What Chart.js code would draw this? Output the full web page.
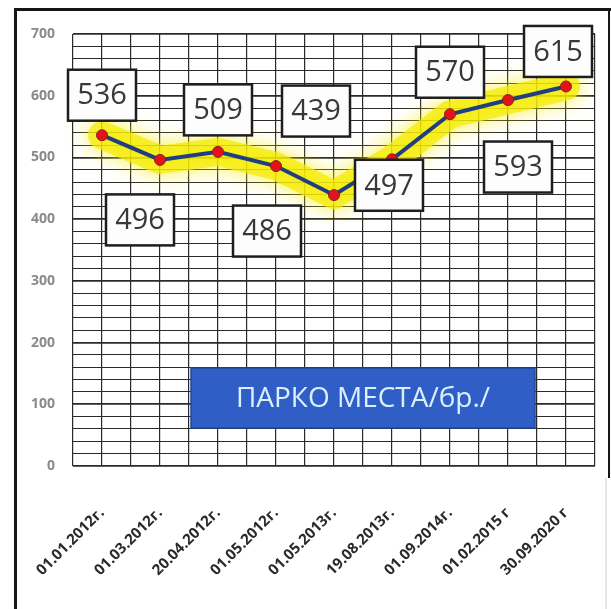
<!DOCTYPE html>
<html>
<head>
<meta charset="utf-8">
<script src="https://cdn.jsdelivr.net/npm/chart.js@4.4.0/dist/chart.umd.min.js"></script>
<style>
	html, body { margin: 0; padding: 0; background: #fff; }
	#wrap { width: 611px; height: 609px; position: relative; }
</style>
</head>
<body>
<div id="wrap"><canvas id="parkingChart" width="611" height="609"></canvas></div>
<script>
const categories = ['01.01.2012г.', '01.03.2012г.', '20.04.2012г.', '01.05.2012г.', '01.05.2013г.', '19.08.2013г.', '01.09.2014г.', '01.02.2015 г', '30.09.2020 г'];
const parkingSpots = [536, 496, 509, 486, 439, 497, 570, 593, 615];
const seriesName = 'ПАРКО МЕСТА/бр./';
const yMin = 0;
const yMax = 700;
const yLabelStep = 100;
const yGridStep = 20;

// where each value box sits relative to its point (dx, dy)
const labelOffsets = [[0, -40], [-20, 60], [0, -42], [-9, 65], [-18, -84], [-3, 26], [0, -42], [10, 67], [-8, -35]];

const AREA = { left: 73, right: 595, top: 34, bottom: 466 };

const glowPlugin = {
	id: 'glow',
	beforeDatasetDraw(chart, args) {
		if (args.index !== 1) return;
		chart.ctx.save();
		chart.ctx.shadowColor = 'rgba(245, 235, 0, 1)';
		chart.ctx.shadowBlur = 20;
	},
	afterDatasetDraw(chart, args) {
		if (args.index !== 1) return;
		chart.ctx.restore();
	},
};

const valueBoxPlugin = {
	id: 'valueBoxes',
	afterDatasetsDraw(chart) {
		const { ctx } = chart;
		const meta = chart.getDatasetMeta(0);
		ctx.save();
		ctx.font = '29px "Open Sans", sans-serif';
		ctx.textAlign = 'center';
		ctx.textBaseline = 'middle';
		meta.data.forEach((point, i) => {
			const [dx, dy] = labelOffsets[i];
			const cx = point.x + dx;
			const cy = point.y + dy;
			const w = 68;
			const h = 51;
			ctx.fillStyle = '#fdfdfd';
			ctx.fillRect(cx - w / 2, cy - h / 2, w, h);
			ctx.lineWidth = 2.5;
			ctx.strokeStyle = '#1e1e1e';
			ctx.strokeRect(cx - w / 2, cy - h / 2, w, h);
			ctx.fillStyle = '#383838';
			ctx.fillText(String(chart.data.datasets[0].data[i]), cx, cy + 1);
		});

		// series name box
		const x0 = 191, y0 = 368, bw = 344, bh = 60;
		ctx.fillStyle = '#2f5fc6';
		ctx.fillRect(x0, y0, bw, bh);
		ctx.strokeStyle = '#23479a';
		ctx.lineWidth = 1.5;
		ctx.strokeRect(x0, y0, bw, bh);
		ctx.fillStyle = '#dcefff';
		ctx.font = '28px "Open Sans", sans-serif';
		ctx.fillText(chart.data.datasets[0].label, x0 + bw / 2, y0 + bh / 2 + 1);
		ctx.restore();
	},
	afterDraw(chart) {
		const { ctx } = chart;
		ctx.save();
		ctx.fillStyle = '#161616';
		ctx.fillRect(14, 8, 3, 601);
		ctx.fillRect(14, 8, 597, 3);
		ctx.fillRect(608, 8, 2, 470);
		ctx.fillStyle = '#e6e6e6';
		ctx.fillRect(605, 478, 2, 131);
		ctx.restore();
	},
};

new Chart(document.getElementById('parkingChart').getContext('2d'), {
	type: 'line',
	data: {
		labels: categories,
		datasets: [
			{
				label: seriesName,
				data: parkingSpots,
				borderColor: '#1f3f80',
				borderWidth: 4,
				pointRadius: 5.5,
				pointBackgroundColor: '#e3131c',
				pointBorderColor: '#8a1f1f',
				pointBorderWidth: 1,
				tension: 0,
				xAxisID: 'x',
				yAxisID: 'y',
			},
			{
				label: 'glow',
				data: parkingSpots,
				borderColor: 'rgba(245, 236, 0, 0.72)',
				borderWidth: 28,
				borderCapStyle: 'round',
				borderJoinStyle: 'round',
				pointRadius: 0,
				tension: 0,
				xAxisID: 'x',
				yAxisID: 'y',
			},
		],
	},
	options: {
		responsive: false,
		animation: false,
		layout: { padding: { top: AREA.top, right: 611 - AREA.right, left: 0, bottom: 0 } },
		plugins: {
			legend: { display: false },
			tooltip: { enabled: false },
		},
		scales: {
			x: {
				type: 'category',
				offset: true,
				grid: { display: false },
				border: { display: false },
				ticks: {
					minRotation: 45,
					maxRotation: 45,
					padding: 30,
					autoSkip: false,
					color: '#2a2a2a',
					font: { family: '"Open Sans", sans-serif', size: 15, weight: 'bold' },
				},
				afterFit(scale) { scale.height = 609 - AREA.bottom; },
			},
			x2: {
				type: 'linear',
				position: 'bottom',
				min: -0.5,
				max: categories.length - 0.5,
				ticks: { display: false, stepSize: 0.5 },
				grid: { color: '#2a2a2a', lineWidth: 1.2, drawTicks: false },
				border: { display: false },
				afterFit(scale) { scale.height = 0; },
			},
			y: {
				min: yMin,
				max: yMax,
				grid: {
					color: '#2a2a2a',
					lineWidth: (ctx) => (ctx.tick && ctx.tick.value % yLabelStep === 0 ? 1.8 : 1.1),
					drawTicks: false,
				},
				border: { display: false },
				ticks: {
					stepSize: yGridStep,
					autoSkip: false,
					padding: 18,
					color: '#8a8a8a',
					font: { family: '"Open Sans", sans-serif', size: 14, weight: 'bold' },
					callback: (value) => (value % yLabelStep === 0 ? value : ''),
				},
				afterFit(scale) { scale.width = AREA.left; },
			},
		},
	},
	plugins: [glowPlugin, valueBoxPlugin],
});
</script>
</body>
</html>
